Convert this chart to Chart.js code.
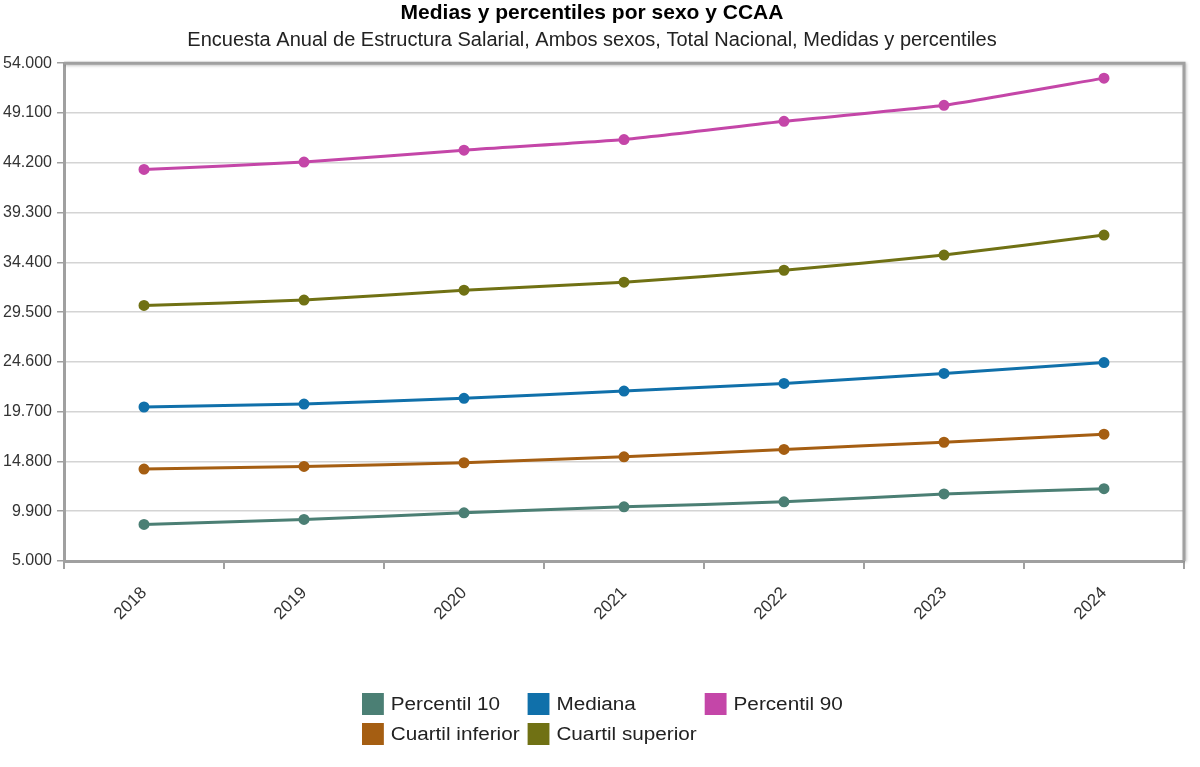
<!DOCTYPE html>
<html>
<head>
<meta charset="utf-8">
<script src="https://cdn.jsdelivr.net/npm/chart.js@4/dist/chart.umd.min.js"></script>
<style>
    body { margin: 0; background: #fff; font-family: "Liberation Sans", Arial, sans-serif; }
    .wrap { position: relative; width: 1200px; height: 767px; }
    .legend {
        position: absolute; left: 362px; top: 693px;
        display: grid; grid-template-columns: auto auto auto;
        column-gap: 7px; row-gap: 8px;
        font-size: 18px; color: #222;
        transform: scaleX(1.15); transform-origin: left top;
    }
    .legend-item { display: flex; align-items: center; height: 22px; white-space: nowrap; }
    .legend-box { width: 19px; height: 22px; margin-right: 6px; }
</style>
</head>
<body>
<div class="wrap">
    <canvas id="chart"></canvas>
    <div class="legend" id="legend"></div>
</div>
<script>
const years = ['2018', '2019', '2020', '2021', '2022', '2023', '2024'];

const percentil10 = [8600, 9090, 9740, 10330, 10820, 11600, 12120];
const cuartilInferior = [14050, 14310, 14670, 15260, 15980, 16690, 17480];
const mediana = [20160, 20450, 21010, 21730, 22480, 23460, 24530];
const cuartilSuperior = [30160, 30680, 31660, 32440, 33620, 35110, 37080];
const percentil90 = [43540, 44270, 45440, 46480, 48280, 49850, 52530];

const yTicks = [5000, 9900, 14800, 19700, 24600, 29500, 34400, 39300, 44200, 49100, 54000];

// order as it appears in the legend
const series = [
    { label: 'Percentil 10', data: percentil10, color: '#4b7f74' },
    { label: 'Mediana', data: mediana, color: '#1070aa' },
    { label: 'Percentil 90', data: percentil90, color: '#c446a8' },
    { label: 'Cuartil inferior', data: cuartilInferior, color: '#a55e12' },
    { label: 'Cuartil superior', data: cuartilSuperior, color: '#707114' }
];

function fmt(v) {
    return String(v).replace(/\B(?=(\d{3})+(?!\d))/g, '.');
}

// top and right frame of the plot area
const frame = {
    id: 'frame',
    beforeDatasetsDraw(chart) {
        const a = chart.chartArea;
        const ctx = chart.ctx;
        ctx.save();
        ctx.strokeStyle = '#a0a0a0';
        ctx.lineWidth = 3;
        ctx.shadowColor = 'rgba(0,0,0,0.25)';
        ctx.shadowBlur = 3;
        ctx.shadowOffsetX = 1;
        ctx.shadowOffsetY = 1;
        ctx.beginPath();
        ctx.moveTo(a.left, a.top);
        ctx.lineTo(a.right, a.top);
        ctx.lineTo(a.right, a.bottom);
        ctx.stroke();
        ctx.restore();
    }
};

const chart = new Chart(document.getElementById('chart'), {
    type: 'line',
    data: {
        labels: years,
        datasets: series.map(s => ({
            label: s.label,
            data: s.data,
            borderColor: s.color,
            backgroundColor: s.color,
            pointBackgroundColor: s.color,
            pointBorderColor: s.color,
            borderWidth: 3,
            pointRadius: 4,
            tension: 0.15
        }))
    },
    options: {
        responsive: true,
        maintainAspectRatio: false,
        animation: false,
        layout: { padding: { left: 0, right: 16, top: 0, bottom: 0 } },
        plugins: {
            legend: { display: false },
            tooltip: { enabled: false },
            title: {
                display: true,
                text: 'Medias y percentiles por sexo y CCAA',
                color: '#000',
                font: { family: 'Liberation Sans', size: 21, weight: 'bold' },
                padding: { top: 1, bottom: 2 }
            },
            subtitle: {
                display: true,
                text: 'Encuesta Anual de Estructura Salarial, Ambos sexos, Total Nacional, Medidas y percentiles',
                color: '#222',
                font: { family: 'Liberation Sans', size: 20 },
                padding: { top: 0, bottom: 11 }
            }
        },
        scales: {
            x: {
                offset: true,
                grid: {
                    offset: true,
                    drawOnChartArea: false,
                    drawTicks: true,
                    tickLength: 8,
                    color: '#a0a0a0',
                    lineWidth: 2
                },
                border: { color: '#a0a0a0', width: 3 },
                ticks: {
                    color: '#333',
                    font: { family: 'Liberation Sans', size: 17 },
                    minRotation: 45,
                    maxRotation: 45,
                    padding: 14
                },
                afterFit(scale) { scale.height = 206; }
            },
            y: {
                min: 5000,
                max: 54000,
                afterBuildTicks(scale) {
                    scale.ticks = yTicks.map(v => ({ value: v }));
                },
                grid: {
                    color: '#d4d4d4',
                    lineWidth: 1.5,
                    tickLength: 7,
                    tickColor: '#a0a0a0'
                },
                border: { color: '#a0a0a0', width: 3 },
                ticks: {
                    color: '#333',
                    font: { family: 'Liberation Sans', size: 16 },
                    padding: 5,
                    callback: v => fmt(v)
                },
                afterFit(scale) { scale.width = 64; }
            }
        }
    },
    plugins: [frame]
});

// html legend, three columns like the original
const legendEl = document.getElementById('legend');
series.forEach(s => {
    const item = document.createElement('div');
    item.className = 'legend-item';
    const box = document.createElement('span');
    box.className = 'legend-box';
    box.style.background = s.color;
    const txt = document.createElement('span');
    txt.textContent = s.label;
    item.appendChild(box);
    item.appendChild(txt);
    legendEl.appendChild(item);
});
</script>
</body>
</html>
